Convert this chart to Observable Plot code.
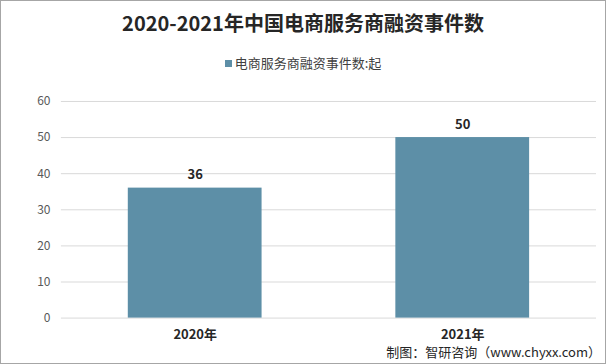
<!DOCTYPE html>
<html><head><meta charset="utf-8">
<script src="https://cdn.jsdelivr.net/npm/d3@7"></script>
<script src="https://cdn.jsdelivr.net/npm/@observablehq/plot@0.6"></script>
<style>
body{margin:0;background:#fff;}
#wrap{position:relative;width:604px;height:362px;border:1px solid #a6a6a6;background:#fff;overflow:hidden;font-family:"Noto Sans CJK SC","Noto Sans",sans-serif;}
#title{position:absolute;top:7px;left:0;width:604px;text-align:center;font-size:20px;font-weight:bold;color:#262626;}
#legend{position:absolute;top:52px;left:0;width:604px;text-align:center;font-size:13px;color:#404040;}
#legend span.sw{display:inline-block;width:7px;height:7px;margin-right:3px;vertical-align:middle;position:relative;top:-1px;}
#chart{position:absolute;top:79px;left:-1px;}
#footer{position:absolute;right:4px;bottom:2px;font-size:13px;color:#262626;}
</style>
</head><body>
<div id="wrap">
<div id="title">2020-2021年中国电商服务商融资事件数</div>
<div id="legend"><span class="sw"></span>电商服务商融资事件数:起</div>
<div id="chart"></div>
<div id="footer">制图：智研咨询（www.chyxx.com）</div>
</div>
<script>
const years = ["2020年", "2021年"];
const counts = [36, 50];
const yTicks = [0, 10, 20, 30, 40, 50, 60];
const seriesName = "电商服务商融资事件数:起";
const barColor = "#5d8fa7";

document.querySelector("#legend .sw").style.background = barColor;

const data = years.map((y, i) => ({year: y, value: counts[i]}));

const chart = Plot.plot({
  width: 606,
  height: 271,
  marginTop: 21,
  marginBottom: 33,
  marginLeft: 61,
  marginRight: 9,
  style: {fontFamily: '"Noto Sans CJK SC","Noto Sans",sans-serif', background: "transparent"},
  x: {domain: years, paddingInner: 0.5, paddingOuter: 0.25, label: null, tickSize: 0, tickPadding: 10},
  y: {domain: [0, 60], ticks: yTicks, label: null, tickSize: 0, tickPadding: 11},
  marks: [
    Plot.ruleY(yTicks, {stroke: "#d9d9d9", strokeWidth: 1}),
    Plot.barY(data, {x: "year", y: "value", fill: barColor}),
    Plot.text(data, {x: "year", y: "value", text: d => String(d.value), dy: -13, fontSize: 13, fontWeight: "bold", fill: "#262626"}),
    Plot.axisY({ticks: yTicks, tickSize: 0, tickPadding: 11, fontSize: 12, color: "#595959", label: null}),
    Plot.axisX({tickSize: 0, tickPadding: 12, fontSize: 13, fontWeight: "bold", color: "#262626", label: null})
  ]
});
document.getElementById("chart").appendChild(chart);
</script>
</body></html>
